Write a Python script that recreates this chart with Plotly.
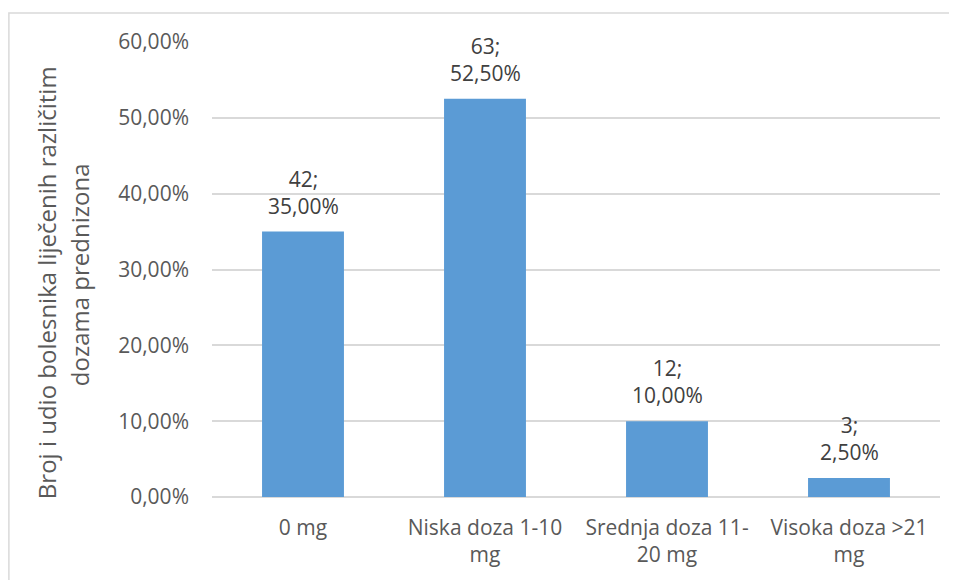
import plotly.graph_objects as go

categories = ['0 mg', 'Niska doza 1-10<br>mg', 'Srednja doza 11-<br>20 mg', 'Visoka doza >21<br>mg']
counts = [42, 63, 12, 3]
shares = [0.35, 0.525, 0.10, 0.025]
y_ticks = [0, 0.1, 0.2, 0.3, 0.4, 0.5, 0.6]

FONT = 'Open Sans'
TEXT_COLOR = '#595959'
GRID = '#D9D9D9'

# label text: "count;<br>share" with decimal comma
labels = [f'{n};<br>{s * 100:.2f}%'.replace('.', ',') for n, s in zip(counts, shares)]

fig = go.Figure()
fig.add_trace(go.Bar(
    x=categories,
    y=shares,
    marker=dict(color='#5B9BD5', line=dict(width=0)),
    hoverinfo='skip'
))

# data labels above the bars
for cat, val, lab in zip(categories, shares, labels):
    fig.add_annotation(
        x=cat, y=val, text=lab, showarrow=False,
        xanchor='center', yanchor='bottom', yshift=10,
        font=dict(family=FONT, size=21, color='#404040')
    )

fig.update_layout(
    width=949,
    height=572,
    margin=dict(l=204, r=17, t=34, b=83),
    paper_bgcolor='white',
    plot_bgcolor='white',
    separators=',.',
    bargap=0.55,
    showlegend=False,
    font=dict(family=FONT, size=21, color=TEXT_COLOR),
    xaxis=dict(
        showgrid=False,
        showline=False,
        ticks='',
        ticklabelstandoff=16,
        tickfont=dict(family=FONT, size=21, color=TEXT_COLOR),
    ),
    yaxis=dict(
        range=[0, 0.6],
        tickvals=y_ticks,
        tickformat='.2%',
        showgrid=True,
        gridcolor=GRID,
        gridwidth=1.5,
        zeroline=True,
        zerolinecolor=GRID,
        zerolinewidth=1.5,
        showline=False,
        ticks='',
        ticklabelstandoff=22,
        tickfont=dict(family=FONT, size=21, color=TEXT_COLOR),
    ),
)

# two-line y axis title, placed like the original
fig.add_annotation(
    text='Broj i udio bolesnika liječenih različitim',
    xref='paper', yref='paper', x=-0.228, y=0.47,
    xanchor='center', yanchor='middle', textangle=-90, showarrow=False,
    font=dict(family=FONT, size=24, color=TEXT_COLOR)
)
fig.add_annotation(
    text='dozama prednizona',
    xref='paper', yref='paper', x=-0.181, y=0.488,
    xanchor='center', yanchor='middle', textangle=-90, showarrow=False,
    font=dict(family=FONT, size=24, color=TEXT_COLOR)
)

# light chart-area border
fig.add_shape(
    type='rect', xref='paper', yref='paper',
    x0=-0.279, x1=1.05, y0=-0.25, y1=1.064,
    line=dict(color=GRID, width=1.5), fillcolor='rgba(0,0,0,0)'
)

fig.write_html('out.html')
